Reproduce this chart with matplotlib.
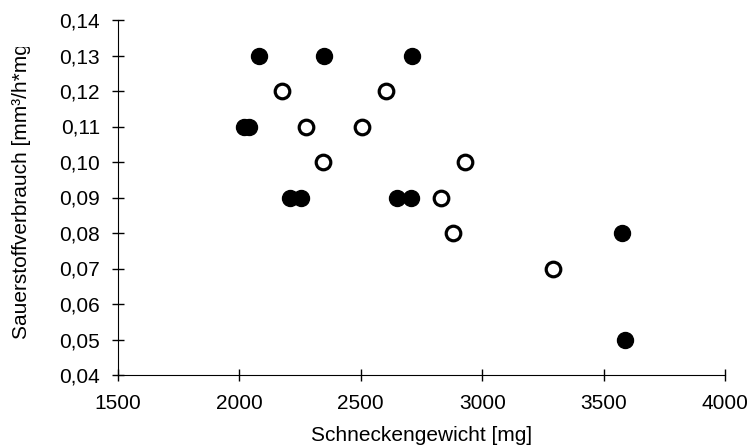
import matplotlib.pyplot as plt
from matplotlib.transforms import Bbox

plt.rcParams['font.family'] = ['Liberation Sans', 'DejaVu Sans']

# gefuellte Punkte
x_voll = [2080, 2350, 2710, 2020, 2040, 2210, 2255, 2650, 2705, 3575, 3590]
y_voll = [0.13, 0.13, 0.13, 0.11, 0.11, 0.09, 0.09, 0.09, 0.09, 0.08, 0.05]

# offene Punkte
x_offen = [2175, 2605, 2275, 2505, 2345, 2930, 2830, 2880, 3290]
y_offen = [0.12, 0.12, 0.11, 0.11, 0.10, 0.10, 0.09, 0.08, 0.07]

x_ticks = [1500, 2000, 2500, 3000, 3500, 4000]
y_ticks = [0.04, 0.05, 0.06, 0.07, 0.08, 0.09, 0.10, 0.11, 0.12, 0.13, 0.14]

fig = plt.figure(figsize=(7.51, 4.45), dpi=100)
ax = fig.add_axes([118/751, 1 - 375/445, (725-118)/751, (375-20)/445])

ax.plot(x_voll, y_voll, 'o', color='black', markersize=11.5, clip_on=False)
ax.plot(x_offen, y_offen, 'o', markerfacecolor='white', markeredgecolor='black',
        markeredgewidth=2.3, markersize=10.5, clip_on=False)

ax.set_xlim(1500, 4000)
ax.set_ylim(0.04, 0.14)
ax.set_xticks(x_ticks)
ax.set_yticks(y_ticks)
ax.set_yticklabels([('%.2f' % v).replace('.', ',') for v in y_ticks])
ax.spines['top'].set_visible(False)
ax.spines['right'].set_visible(False)
ax.tick_params(direction='inout', length=8, width=1, labelsize=15)
ax.tick_params(axis='x', pad=10)
ax.tick_params(axis='y', pad=9)

ax.set_xlabel('Schneckengewicht [mg]', fontsize=15, labelpad=9)

# Achsenbeschriftung y, oben abgeschnitten wie im Original
t = fig.text(22/751, 1 - 339/445, 'Sauerstoffverbrauch [mm³/h*mg]', rotation=90,
             ha='center', va='bottom', fontsize=15)
t.set_clip_box(Bbox.from_extents(0, 0, 751, 445 - 47))
t.set_clip_on(True)

fig.savefig('out.png', dpi=100)
